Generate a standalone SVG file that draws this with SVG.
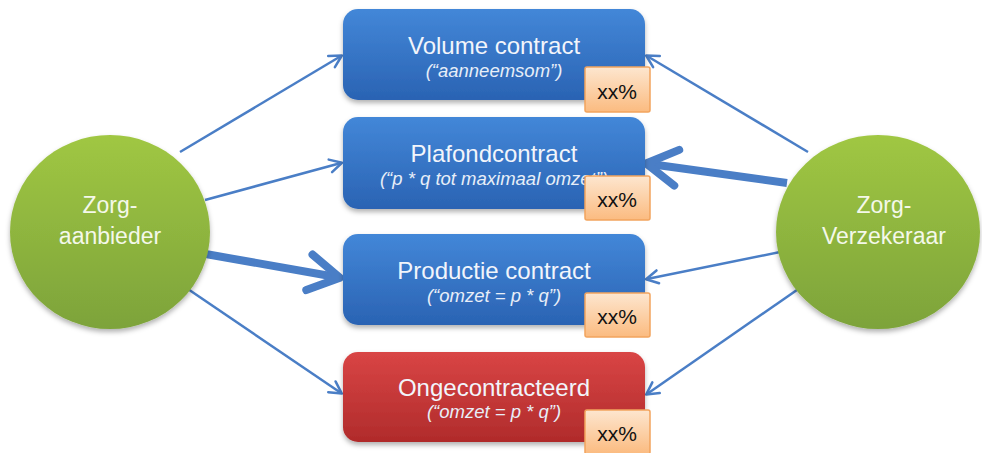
<svg xmlns="http://www.w3.org/2000/svg" width="982" height="453" viewBox="0 0 982 453">
  <defs>
    <linearGradient id="gBlue" x1="0" y1="0" x2="0" y2="1">
      <stop offset="0" stop-color="#4387d8"/>
      <stop offset="1" stop-color="#2a63b3"/>
    </linearGradient>
    <linearGradient id="gRed" x1="0" y1="0" x2="0" y2="1">
      <stop offset="0" stop-color="#d94545"/>
      <stop offset="1" stop-color="#b02b2b"/>
    </linearGradient>
    <linearGradient id="gBadge" x1="0" y1="0" x2="0" y2="1">
      <stop offset="0" stop-color="#fde6cf"/>
      <stop offset="1" stop-color="#fbbb80"/>
    </linearGradient>
    <linearGradient id="gGreen" x1="0" y1="0" x2="0" y2="1">
      <stop offset="0" stop-color="#a0c743"/>
      <stop offset="1" stop-color="#7da33a"/>
    </linearGradient>
    <filter id="shadow" x="-10%" y="-10%" width="130%" height="140%">
      <feDropShadow dx="0" dy="3" stdDeviation="2.5" flood-color="#000" flood-opacity="0.3"/>
    </filter>
    <marker id="arrThin" markerUnits="userSpaceOnUse" markerWidth="30" markerHeight="30" viewBox="-20 -15 30 30" refX="-1" refY="0" orient="auto">
      <path d="M-12,-6.5 L0,0 L-12,6.5" fill="none" stroke="#4a7ec6" stroke-width="2.5" stroke-linecap="round" stroke-linejoin="round"/>
    </marker>
    <marker id="arrThick" markerUnits="userSpaceOnUse" markerWidth="60" markerHeight="60" viewBox="-45 -30 60 60" refX="-4" refY="0" orient="auto">
      <path d="M-31,-18 L0,0 L-31,18" fill="none" stroke="#4a7ec6" stroke-width="8" stroke-linecap="round" stroke-linejoin="round"/>
    </marker>
  </defs>
  <style>
    .thin { stroke: #4a7ec6; stroke-width: 2.5; fill: none; marker-end: url(#arrThin); }
    .thick { stroke: #4a7ec6; stroke-width: 8; fill: none; marker-end: url(#arrThick); }
    .box { filter: url(#shadow); }
    .badge { fill: url(#gBadge); stroke: #f2a45e; stroke-width: 1.5; }
    .title { font-family: "Liberation Sans", Arial, sans-serif; font-size: 24px; fill: #f2f5fb; text-anchor: middle; }
    .sub { font-family: "Liberation Sans", Arial, sans-serif; font-size: 18.5px; font-style: italic; fill: #e8eef8; text-anchor: middle; }
    .pct { font-family: "Liberation Sans", Arial, sans-serif; font-size: 21px; fill: #111; text-anchor: middle; }
    .circ { font-family: "Liberation Sans", Arial, sans-serif; font-size: 23px; fill: #f4f8ea; text-anchor: middle; }
  </style>

  <g id="connectors">
    <line class="thin" x1="180" y1="152" x2="341" y2="56"/>
    <line class="thin" x1="205" y1="200" x2="341" y2="163"/>
    <line class="thick" x1="200" y1="253" x2="336" y2="277"/>
    <line class="thin" x1="182" y1="285" x2="341" y2="393"/>
    <line class="thin" x1="808" y1="152" x2="647" y2="56"/>
    <line class="thick" x1="787" y1="183" x2="650" y2="164"/>
    <line class="thin" x1="785" y1="251" x2="647" y2="279"/>
    <line class="thin" x1="807" y1="283" x2="647" y2="394"/>
  </g>

  <g id="zorgaanbieder">
    <ellipse cx="110" cy="232" rx="100" ry="97" fill="url(#gGreen)" filter="url(#shadow)"/>
    <text class="circ" x="110" y="213">Zorg-</text>
    <text class="circ" x="110" y="244">aanbieder</text>
  </g>

  <g id="zorgverzekeraar">
    <ellipse cx="878" cy="232" rx="102" ry="97" fill="url(#gGreen)" filter="url(#shadow)"/>
    <text class="circ" x="884" y="213">Zorg-</text>
    <text class="circ" x="884" y="244">Verzekeraar</text>
  </g>

  <g id="volume">
    <rect class="box" x="343" y="9" width="302" height="91" rx="15" fill="url(#gBlue)"/>
    <text class="title" x="494" y="54">Volume contract</text>
    <text class="sub" x="494" y="77">(“aanneemsom”)</text>
    <rect class="badge" x="585" y="67" width="65" height="45" rx="2"/>
    <text class="pct" x="617" y="99">xx%</text>
  </g>

  <g id="plafond">
    <rect class="box" x="343" y="117" width="302" height="92" rx="15" fill="url(#gBlue)"/>
    <text class="title" x="494" y="162">Plafondcontract</text>
    <text class="sub" x="494" y="185">(“p * q tot maximaal omzet”)</text>
    <rect class="badge" x="585" y="176" width="65" height="44" rx="2"/>
    <text class="pct" x="617" y="207">xx%</text>
  </g>

  <g id="productie">
    <rect class="box" x="343" y="234" width="302" height="91" rx="15" fill="url(#gBlue)"/>
    <text class="title" x="494" y="279">Productie contract</text>
    <text class="sub" x="494" y="302">(“omzet = p * q”)</text>
    <rect class="badge" x="585" y="293" width="65" height="44" rx="2"/>
    <text class="pct" x="617" y="324">xx%</text>
  </g>

  <g id="ongecontracteerd">
    <rect class="box" x="343" y="352" width="302" height="90" rx="15" fill="url(#gRed)"/>
    <text class="title" x="494" y="396">Ongecontracteerd</text>
    <text class="sub" x="494" y="418">(“omzet = p * q”)</text>
    <rect class="badge" x="585" y="410" width="65" height="44" rx="2"/>
    <text class="pct" x="617" y="441">xx%</text>
  </g>
</svg>
